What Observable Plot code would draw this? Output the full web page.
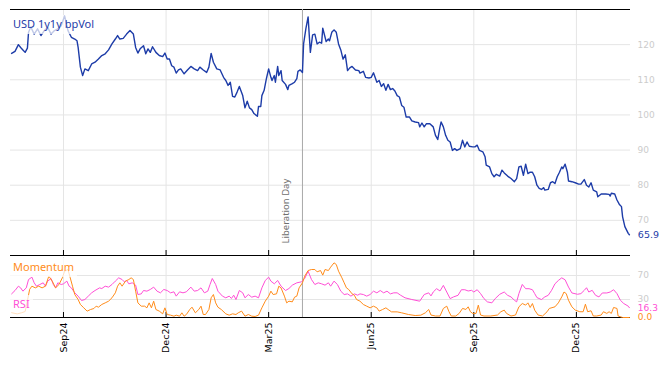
<!DOCTYPE html>
<html><head><meta charset="utf-8">
<script src="https://cdn.jsdelivr.net/npm/d3@7"></script>
<script src="https://cdn.jsdelivr.net/npm/@observablehq/plot@0.6"></script>
<style>
body{margin:0;background:#fff}
#wrap{position:relative;width:668px;height:366px;overflow:hidden;background:#fff}
#wrap svg{position:absolute;left:0;display:block}
.lbl{position:absolute;font-family:"Noto Sans",sans-serif;font-size:11px;line-height:14px;background:rgba(255,255,255,0.72);padding:2px 3px;white-space:nowrap}
</style></head>
<body><div id="wrap"></div>
<script>
// ---------- data ----------
const volDates = ["2024-07-18","2024-07-21","2024-07-24","2024-07-26","2024-07-28","2024-07-30","2024-08-01","2024-08-02","2024-08-04","2024-08-07","2024-08-10","2024-08-13","2024-08-16","2024-08-19","2024-08-22","2024-08-25","2024-08-28","2024-08-31","2024-09-03","2024-09-06","2024-09-09","2024-09-12","2024-09-14","2024-09-15","2024-09-17","2024-09-19","2024-09-21","2024-09-24","2024-09-27","2024-09-30","2024-10-03","2024-10-06","2024-10-09","2024-10-12","2024-10-15","2024-10-18","2024-10-20","2024-10-22","2024-10-25","2024-10-28","2024-10-31","2024-11-03","2024-11-05","2024-11-07","2024-11-09","2024-11-12","2024-11-14","2024-11-16","2024-11-18","2024-11-20","2024-11-23","2024-11-26","2024-11-29","2024-12-01","2024-12-03","2024-12-05","2024-12-07","2024-12-09","2024-12-11","2024-12-13","2024-12-15","2024-12-18","2024-12-21","2024-12-24","2024-12-27","2024-12-30","2025-01-01","2025-01-04","2025-01-07","2025-01-09","2025-01-11","2025-01-13","2025-01-16","2025-01-19","2025-01-22","2025-01-24","2025-01-26","2025-01-28","2025-01-30","2025-02-01","2025-02-03","2025-02-05","2025-02-08","2025-02-10","2025-02-12","2025-02-14","2025-02-16","2025-02-18","2025-02-21","2025-02-22","2025-02-24","2025-02-25","2025-02-27","2025-03-01","2025-03-03","2025-03-05","2025-03-06","2025-03-08","2025-03-09","2025-03-11","2025-03-12","2025-03-14","2025-03-15","2025-03-18","2025-03-20","2025-03-21","2025-03-24","2025-03-26","2025-03-28","2025-03-29","2025-03-31","2025-04-02","2025-04-03","2025-04-05","2025-04-07","2025-04-09","2025-04-11","2025-04-13","2025-04-15","2025-04-17","2025-04-19","2025-04-20","2025-04-23","2025-04-25","2025-04-26","2025-04-28","2025-04-30","2025-05-02","2025-05-04","2025-05-06","2025-05-08","2025-05-10","2025-05-12","2025-05-14","2025-05-16","2025-05-19","2025-05-22","2025-05-23","2025-05-26","2025-05-28","2025-05-31","2025-06-02","2025-06-04","2025-06-07","2025-06-09","2025-06-11","2025-06-13","2025-06-15","2025-06-17","2025-06-19","2025-06-21","2025-06-23","2025-06-25","2025-06-27","2025-06-29","2025-07-01","2025-07-03","2025-07-06","2025-07-08","2025-07-11","2025-07-14","2025-07-15","2025-07-17","2025-07-19","2025-07-21","2025-07-24","2025-07-27","2025-07-29","2025-07-31","2025-08-02","2025-08-03","2025-08-05","2025-08-07","2025-08-09","2025-08-11","2025-08-13","2025-08-15","2025-08-17","2025-08-20","2025-08-22","2025-08-24","2025-08-26","2025-08-28","2025-08-31","2025-09-02","2025-09-04","2025-09-06","2025-09-09","2025-09-11","2025-09-12","2025-09-15","2025-09-17","2025-09-19","2025-09-21","2025-09-24","2025-09-26","2025-09-28","2025-10-01","2025-10-04","2025-10-07","2025-10-09","2025-10-11","2025-10-13","2025-10-15","2025-10-17","2025-10-19","2025-10-21","2025-10-23","2025-10-25","2025-10-27","2025-10-29","2025-10-31","2025-11-02","2025-11-03","2025-11-06","2025-11-08","2025-11-10","2025-11-12","2025-11-14","2025-11-16","2025-11-18","2025-11-19","2025-11-21","2025-11-23","2025-11-24","2025-11-27","2025-11-30","2025-12-03","2025-12-05","2025-12-08","2025-12-10","2025-12-12","2025-12-14","2025-12-16","2025-12-19","2025-12-20","2025-12-23","2025-12-27","2025-12-30","2025-12-31","2026-01-01","2026-01-04","2026-01-06","2026-01-08","2026-01-10","2026-01-11","2026-01-13","2026-01-16","2026-01-17"];
const volValues = [117.5,118.1,120.0,119.2,118.5,117.8,119.0,123.5,125.0,123.0,124.5,122.6,124.0,124.9,123.0,124.0,124.5,125.4,128.2,124.0,122.1,121.6,121.1,119.2,113.6,111.2,113.1,112.6,114.5,115.0,115.9,116.9,117.4,118.5,120.2,121.6,122.6,121.6,121.8,123.0,124.0,123.0,119.2,117.6,118.8,119.7,117.4,118.8,117.8,119.4,117.8,116.9,116.6,117.6,115.9,115.9,114.0,113.6,111.9,112.8,113.1,111.7,112.8,113.8,113.1,112.6,113.6,112.8,112.1,113.6,117.5,115.0,113.1,112.8,110.7,109.8,108.4,109.3,105.3,105.1,106.5,108.1,105.5,102.0,103.9,102.0,101.5,100.4,99.6,102.4,102.4,105.5,107.0,110.3,113.1,110.7,109.8,111.2,109.3,113.8,111.2,112.6,109.8,108.7,107.2,108.4,108.9,109.3,110.3,112.4,112.8,112.1,120.2,124.5,127.9,117.8,122.8,123.0,120.2,120.7,120.4,124.7,120.9,121.6,121.1,123.5,124.2,123.5,120.2,118.5,115.9,117.1,112.6,113.4,113.8,112.8,112.6,111.9,112.4,110.7,110.5,110.7,112.0,109.3,109.8,108.1,108.9,107.0,108.7,107.2,107.5,106.8,105.5,105.1,102.7,102.2,99.4,99.4,98.3,98.0,97.8,96.6,97.7,96.6,97.5,97.5,96.6,94.2,93.0,96.6,98.0,96.6,94.2,92.8,92.3,89.9,90.4,89.9,90.4,92.8,90.9,92.3,91.1,90.9,90.9,91.4,89.9,89.5,88.1,85.7,85.2,83.3,82.4,83.1,82.6,84.3,83.5,82.6,81.9,81.0,81.9,85.2,85.4,82.8,86.0,83.3,83.7,83.7,82.4,80.0,79.1,78.8,79.3,78.6,78.8,80.7,81.0,80.5,82.4,83.7,85.2,84.7,86.0,83.7,81.2,81.0,80.7,80.3,80.3,81.6,80.0,79.5,80.7,78.6,78.1,76.7,77.5,77.5,77.4,76.9,77.7,77.5,75.8,74.6,73.9,71.0,68.2,66.3,65.9];

const rsiDates = ["2024-07-18","2024-07-21","2024-07-24","2024-07-26","2024-07-28","2024-07-31","2024-08-02","2024-08-05","2024-08-07","2024-08-09","2024-08-12","2024-08-15","2024-08-17","2024-08-19","2024-08-22","2024-08-24","2024-08-26","2024-08-28","2024-08-31","2024-09-02","2024-09-05","2024-09-07","2024-09-09","2024-09-12","2024-09-15","2024-09-18","2024-09-21","2024-09-24","2024-09-27","2024-09-30","2024-10-04","2024-10-06","2024-10-09","2024-10-12","2024-10-15","2024-10-18","2024-10-21","2024-10-24","2024-10-26","2024-10-28","2024-10-30","2024-11-02","2024-11-05","2024-11-07","2024-11-10","2024-11-12","2024-11-15","2024-11-18","2024-11-21","2024-11-24","2024-11-27","2024-11-30","2024-12-03","2024-12-06","2024-12-09","2024-12-11","2024-12-14","2024-12-17","2024-12-20","2024-12-24","2024-12-27","2024-12-30","2025-01-02","2025-01-05","2025-01-08","2025-01-10","2025-01-12","2025-01-15","2025-01-17","2025-01-21","2025-01-24","2025-01-27","2025-01-29","2025-01-31","2025-02-02","2025-02-05","2025-02-08","2025-02-10","2025-02-13","2025-02-16","2025-02-19","2025-02-22","2025-02-25","2025-02-28","2025-03-03","2025-03-05","2025-03-08","2025-03-11","2025-03-14","2025-03-18","2025-03-21","2025-03-24","2025-03-28","2025-04-01","2025-04-04","2025-04-07","2025-04-10","2025-04-13","2025-04-16","2025-04-19","2025-04-22","2025-04-25","2025-04-27","2025-04-30","2025-05-03","2025-05-06","2025-05-09","2025-05-12","2025-05-15","2025-05-18","2025-05-21","2025-05-23","2025-05-26","2025-05-29","2025-06-01","2025-06-04","2025-06-07","2025-06-10","2025-06-13","2025-06-16","2025-06-19","2025-06-22","2025-06-25","2025-06-28","2025-07-02","2025-07-08","2025-07-15","2025-07-19","2025-07-23","2025-07-25","2025-07-27","2025-07-30","2025-08-02","2025-08-05","2025-08-08","2025-08-11","2025-08-14","2025-08-18","2025-08-21","2025-08-24","2025-08-27","2025-08-30","2025-09-01","2025-09-04","2025-09-07","2025-09-10","2025-09-13","2025-09-17","2025-09-20","2025-09-24","2025-09-28","2025-10-01","2025-10-04","2025-10-07","2025-10-09","2025-10-11","2025-10-14","2025-10-17","2025-10-20","2025-10-23","2025-10-25","2025-10-27","2025-10-31","2025-11-03","2025-11-06","2025-11-09","2025-11-12","2025-11-15","2025-11-18","2025-11-21","2025-11-24","2025-11-27","2025-12-02","2025-12-05","2025-12-08","2025-12-10","2025-12-12","2025-12-15","2025-12-18","2025-12-21","2025-12-24","2025-12-28","2025-12-31","2026-01-03","2026-01-06","2026-01-09","2026-01-12","2026-01-16","2026-01-17"];
const rsiValues = [39.4,45,52.2,49.4,43.9,49.4,63.3,67.2,57.8,52.2,55,57.8,52.2,60.6,65,55,49.4,57.8,55,56.1,60.6,52.2,49.4,41.1,35.6,28.3,30,35.6,41.1,45,49.4,48.3,52.2,50.6,55,60.6,66.1,63.3,59.4,61.7,56.1,57.8,53.9,38.3,39.4,45,43.9,46.7,50.6,43.9,41.1,46.7,45,41.1,42.8,35.6,42.8,41.1,42.8,50.6,43.9,45,49.4,41.1,43.9,55,65,55,43.9,35.6,32.8,35.6,31.7,37.2,30,45,41.1,32.8,38.3,33.9,35.6,32.8,49.4,61.7,67.2,60.6,56.1,61.7,52.2,45,48.3,53.9,57.8,59.4,65,77.2,63.3,55,57.8,56.1,53.9,57.8,52.2,60.6,55,43.9,38.3,39.4,35.6,39.4,37.2,39.4,38.3,35.6,38.3,43.9,41.1,45,41.1,43.9,39.4,41.1,41.1,37.2,32.8,30,27.2,38.3,41.1,36,42.5,48,44.2,53.5,42.5,31.5,34.3,37,46.3,46.3,44.2,45.3,42.5,46.3,39.8,31.5,26.1,24.4,31.5,38.7,42.5,37,34.3,28.8,26.1,39.8,55.1,48,48,46.3,39.8,33.2,29.9,34.3,37,45.3,56.2,61.7,66.1,62.8,50.7,40.9,38.7,39.8,45.3,49.6,42.5,45.3,37,34.3,40.9,40.9,42.5,46.3,39.8,28.8,23.3,18.9,16.3];

const momDates = ["2024-07-18","2024-07-23","2024-07-27","2024-07-30","2024-08-01","2024-08-03","2024-08-05","2024-08-08","2024-08-11","2024-08-14","2024-08-17","2024-08-20","2024-08-23","2024-08-26","2024-08-29","2024-09-01","2024-09-03","2024-09-06","2024-09-08","2024-09-10","2024-09-12","2024-09-15","2024-09-17","2024-09-20","2024-09-23","2024-09-26","2024-09-29","2024-10-01","2024-10-03","2024-10-06","2024-10-09","2024-10-12","2024-10-15","2024-10-18","2024-10-20","2024-10-22","2024-10-24","2024-10-27","2024-10-30","2024-11-01","2024-11-03","2024-11-05","2024-11-07","2024-11-10","2024-11-13","2024-11-15","2024-11-17","2024-11-19","2024-11-21","2024-11-23","2024-11-26","2024-11-29","2024-12-01","2024-12-03","2024-12-06","2024-12-09","2024-12-11","2024-12-14","2024-12-16","2024-12-18","2024-12-20","2024-12-23","2024-12-25","2024-12-28","2024-12-31","2025-01-02","2025-01-04","2025-01-06","2025-01-09","2025-01-11","2025-01-13","2025-01-15","2025-01-17","2025-01-20","2025-01-24","2025-01-27","2025-01-30","2025-02-02","2025-02-04","2025-02-07","2025-02-10","2025-02-13","2025-02-16","2025-02-19","2025-02-22","2025-02-25","2025-02-28","2025-03-03","2025-03-05","2025-03-07","2025-03-10","2025-03-12","2025-03-14","2025-03-17","2025-03-19","2025-03-21","2025-03-24","2025-03-26","2025-03-28","2025-03-30","2025-04-02","2025-04-04","2025-04-07","2025-04-10","2025-04-13","2025-04-15","2025-04-18","2025-04-20","2025-04-22","2025-04-25","2025-04-27","2025-04-30","2025-05-02","2025-05-04","2025-05-07","2025-05-09","2025-05-11","2025-05-13","2025-05-16","2025-05-18","2025-05-20","2025-05-23","2025-05-26","2025-05-29","2025-06-01","2025-06-04","2025-06-07","2025-06-09","2025-06-12","2025-06-15","2025-06-17","2025-06-20","2025-06-25","2025-06-29","2025-07-05","2025-07-11","2025-07-16","2025-07-20","2025-07-23","2025-07-25","2025-07-29","2025-08-02","2025-08-05","2025-08-08","2025-08-10","2025-08-12","2025-08-16","2025-08-19","2025-08-22","2025-08-25","2025-08-27","2025-08-29","2025-08-31","2025-09-03","2025-09-05","2025-09-07","2025-09-10","2025-09-16","2025-09-22","2025-09-25","2025-09-28","2025-09-30","2025-10-04","2025-10-08","2025-10-11","2025-10-14","2025-10-17","2025-10-19","2025-10-21","2025-10-23","2025-10-25","2025-10-28","2025-11-01","2025-11-05","2025-11-07","2025-11-12","2025-11-15","2025-11-18","2025-11-20","2025-11-22","2025-11-24","2025-11-27","2025-11-30","2025-12-04","2025-12-07","2025-12-09","2025-12-11","2025-12-14","2025-12-16","2025-12-19","2025-12-23","2025-12-25","2025-12-28","2025-12-30","2026-01-01","2026-01-03","2026-01-06","2026-01-07","2026-01-11","2026-01-17"];
const momValues = [8,6,8,10,28,47,52.2,49.4,52.2,49.4,52.2,68.9,60.6,49.4,55,66.1,77.2,80,66.1,52.2,38.3,30,21.7,16.1,10.6,13.3,15,18.9,17.2,21.7,24.4,27.2,32.8,41.1,52.2,57.8,52.2,60.6,63.3,66.1,63.3,43.9,24.4,18.9,18.9,16.1,24.4,16.1,27.2,13.3,10.6,6.1,16.1,5,3.9,2.2,3.9,2.2,7.8,2.2,5,13.3,17.2,7.8,13.3,18.9,5,5,13.3,32.8,38.3,24.4,17.2,13.3,6.1,3.9,6.1,5,7.8,10.6,2.2,5,2.2,1.7,3.9,16.1,27.2,35.6,43.9,38.3,39.4,52.2,49.4,35.6,24.4,27.2,26.1,33.9,35.6,49.4,57.8,68.9,78.3,80,80,76.1,78.3,70.6,80,78.3,83.9,91.1,88.3,77.2,66.1,57.8,49.4,46.7,39.4,37.2,30,27.2,21.7,18.9,16.1,18.9,16.1,10.6,13.3,16.1,13.3,9.4,9.4,7.8,5,3.3,3.9,7.8,13.3,4.1,2.5,2.5,15.1,18.9,9.6,2.5,2.5,6.8,15.1,13.4,17.8,9.6,6.8,6.8,20.6,4.1,2.5,2.5,4.1,9.6,12.3,6.8,2.5,4.1,17.8,23.3,20.6,24.4,16.7,23.3,12.3,4.1,2.5,9.6,15.1,17.8,24.4,34.3,42.5,39.8,28.8,17.8,12.3,9.6,9.6,22.2,9.6,11.2,2.5,2.5,4.1,9.6,6.8,9.6,6.8,16.7,15.1,2.5,0,0];

const xTickDates = ["2024-09-02","2024-12-02","2025-03-03","2025-06-02","2025-09-01","2025-12-01"];
const xDomainDates = ["2024-07-17","2026-01-18"];
const mainTicks = [70,80,90,100,110,120];
const mainDomain = [60,130];
const lowerTicks = [30,70];
const lowerDomain = [0,100];
const eventDateStr = "2025-04-02";
const eventLabel = "Liberation Day";
const seriesNames = {vol:"USD 1y1y bpVol", mom:"Momentum", rsi:"RSI"};

// ---------- build ----------
const parse = d3.utcParse("%Y-%m-%d");
const vol = volDates.map((d,i)=>({date:parse(d), value:volValues[i]}));
const rsi = rsiDates.map((d,i)=>({date:parse(d), value:rsiValues[i]}));
const mom = momDates.map((d,i)=>({date:parse(d), value:momValues[i]}));
const ticks = xTickDates.map(parse);
const xDomain = xDomainDates.map(parse);
const eventDate = parse(eventDateStr);

const BLUE="#1d3ca8", PINK="#ff4fd6", ORANGE="#ff8c1a", GRID="#e5e5e5", AXT="#cccccc", EVT="#a9a9a9";
const baseStyle = {fontFamily:"DejaVu Sans", fontSize:"9px", background:"transparent", overflow:"visible"};

const main = Plot.plot({
  width:668, height:256, marginTop:9, marginBottom:1, marginLeft:10, marginRight:38,
  style: baseStyle,
  x:{type:"utc", domain:xDomain},
  y:{domain:mainDomain},
  marks:[
    Plot.gridX(ticks,{stroke:GRID, strokeOpacity:1}),
    Plot.gridY(mainTicks,{stroke:GRID, strokeOpacity:1}),
    Plot.axisY(mainTicks,{anchor:"right", tickSize:0, tickPadding:7, color:AXT, label:null}),
    Plot.axisX(ticks,{anchor:"bottom", tickSize:-5, tickFormat:()=>"", label:null}),
    Plot.ruleY([mainDomain[1]],{stroke:"#000"}),
    Plot.ruleY([mainDomain[0]],{stroke:"#000"}),
    Plot.ruleX([eventDate],{stroke:EVT}),
    Plot.text([eventLabel],{x:()=>eventDate, frameAnchor:"bottom", rotate:-90, textAnchor:"start", dx:-13, dy:-12, fill:"#6e6e6e", fontSize:9.5, fontFamily:"Noto Sans"}),
    Plot.line(vol,{x:"date", y:"value", stroke:BLUE, strokeWidth:1.4}),
    Plot.text([vol[vol.length-1]],{x:"date", y:"value", text:d=>d.value.toFixed(1), textAnchor:"start", dx:8.5, fill:BLUE, fontSize:9.5})
  ]
});

const lower = Plot.plot({
  width:668, height:111, marginTop:2, marginBottom:49, marginLeft:10, marginRight:38,
  style: baseStyle,
  x:{type:"utc", domain:xDomain},
  y:{domain:lowerDomain},
  marks:[
    Plot.gridX(ticks,{stroke:GRID, strokeOpacity:1}),
    Plot.gridY(lowerTicks,{stroke:GRID, strokeOpacity:1}),
    Plot.axisY(lowerTicks,{anchor:"right", tickSize:0, tickPadding:7, color:AXT, label:null}),
    Plot.axisX(ticks,{anchor:"bottom", tickSize:-5, tickFormat:()=>"", label:null}),
    Plot.axisX(ticks,{anchor:"bottom", tickSize:0, tickPadding:5, tickRotate:-90, tickFormat:d3.utcFormat("%b%y"), label:null, fontSize:9.5, fill:"#000"}),
    Plot.ruleY([lowerDomain[0]],{stroke:"#000"}),
    Plot.ruleX([eventDate],{stroke:EVT}),
    Plot.line(rsi,{x:"date", y:"value", stroke:PINK, strokeWidth:1}),
    Plot.line(mom,{x:"date", y:"value", stroke:ORANGE, strokeWidth:1}),
    Plot.text([rsi[rsi.length-1]],{x:"date", y:"value", text:d=>d.value.toFixed(1), textAnchor:"start", dx:8.5, fill:PINK, fontSize:9}),
    Plot.text([mom[mom.length-1]],{x:"date", y:"value", text:d=>d.value.toFixed(1), textAnchor:"start", dx:8.5, fill:ORANGE, fontSize:9})
  ]
});

const wrap = document.getElementById("wrap");
main.style.top = "0px";
lower.style.top = "255px";
wrap.append(main, lower);

function label(text, color, left, top, padBottom){
  const d = document.createElement("div");
  d.className = "lbl";
  d.textContent = text;
  d.style.color = color;
  d.style.left = left + "px";
  d.style.top = top + "px";
  if (padBottom) d.style.paddingBottom = padBottom + "px";
  wrap.append(d);
}
label(seriesNames.vol, BLUE, 10, 15, 3);
label(seriesNames.mom, ORANGE, 10, 258, 3);
label(seriesNames.rsi, PINK, 10, 295, 5);
</script></body></html>
